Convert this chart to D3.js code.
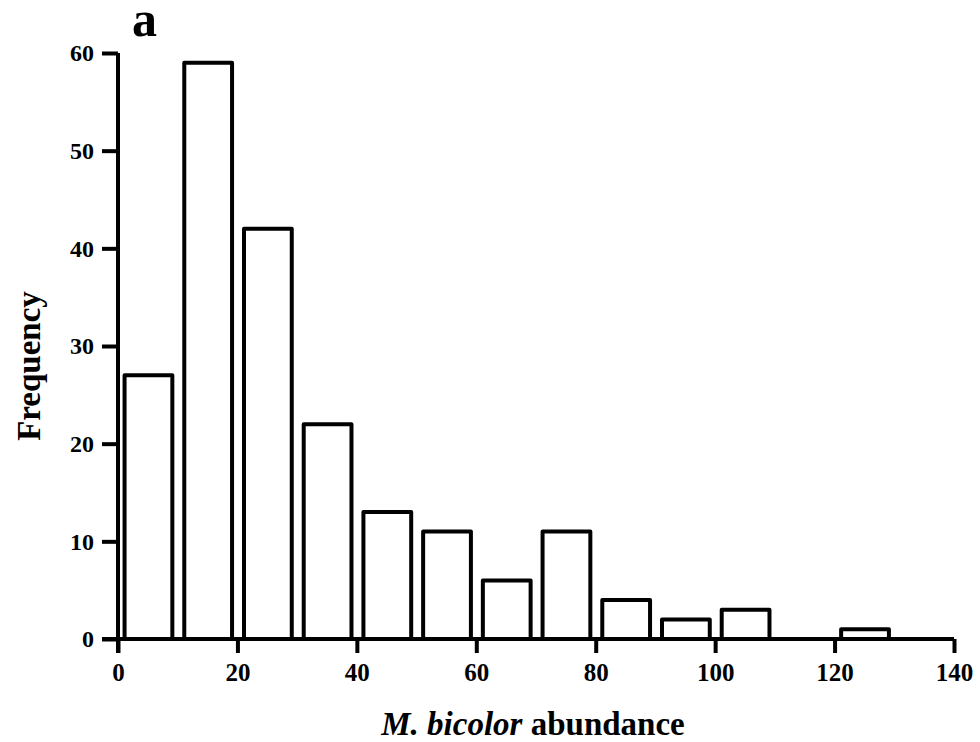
<!DOCTYPE html>
<html>
<head>
<meta charset="utf-8">
<script src="https://cdn.jsdelivr.net/npm/d3@7"></script>
<style>
  html, body { margin: 0; padding: 0; background: #fff; }
  svg { display: block; }
  text { font-family: "Liberation Serif", "Times New Roman", serif; font-weight: bold; fill: #000; }
</style>
</head>
<body>
<svg id="chart" width="980" height="742"></svg>
<script>
// Histogram bins (lower edge of each 10-wide bin) and counts
const binStarts = [0, 10, 20, 30, 40, 50, 60, 70, 80, 90, 100, 110, 120];
const counts    = [27, 59, 42, 22, 13, 11, 6, 11, 4, 2, 3, 0, 1];
const xTicks = [0, 20, 40, 60, 80, 100, 120, 140];
const yTicks = [0, 10, 20, 30, 40, 50, 60];

(function () {
  const svg = d3.select("#chart");
  const plotLeft = 118, plotRight = 954, plotTop = 53, plotBottom = 639;

  const x = d3.scaleLinear().domain([0, 140]).range([plotLeft, plotRight]);
  const y = d3.scaleLinear().domain([0, 60]).range([plotBottom, plotTop]);

  const sw = 4;

  // Bars: each occupies its bin with a small gap on either side
  svg.append("g")
    .selectAll("rect")
    .data(binStarts.map((b, i) => ({ b, c: counts[i] })).filter(d => d.c > 0))
    .join("rect")
    .attr("x", d => x(d.b + 1.1))
    .attr("width", d => x(d.b + 9.1) - x(d.b + 1.1))
    .attr("y", d => y(d.c))
    .attr("height", d => y(0) - y(d.c))
    .attr("fill", "#fff")
    .attr("stroke", "#000")
    .attr("stroke-width", sw)
    .attr("stroke-linejoin", "round");

  // X axis
  const xAxis = svg.append("g")
    .attr("transform", `translate(0,${plotBottom})`)
    .call(d3.axisBottom(x).tickValues(xTicks).tickSize(14).tickPadding(10).tickSizeOuter(0));
  xAxis.select(".domain").attr("stroke-width", sw).attr("d", `M${plotLeft - 16},0H${plotRight}`);
  xAxis.selectAll(".tick line").attr("stroke-width", sw);
  xAxis.selectAll(".tick text").attr("font-size", 25).attr("dy", "0.7em");

  // Y axis
  const yAxis = svg.append("g")
    .attr("transform", `translate(${plotLeft},0)`)
    .call(d3.axisLeft(y).tickValues(yTicks).tickSize(16).tickPadding(8).tickSizeOuter(0));
  yAxis.select(".domain").attr("stroke-width", sw).attr("d", `M0,${plotBottom + 14}V${plotTop}`);
  yAxis.selectAll(".tick line").attr("stroke-width", sw);
  yAxis.selectAll(".tick text").attr("font-size", 24);

  // Axis titles
  const xt = svg.append("text")
    .attr("x", 533)
    .attr("y", 735)
    .attr("text-anchor", "middle")
    .attr("font-size", 33);
  xt.append("tspan").attr("font-style", "italic").text("M. bicolor");
  xt.append("tspan").text(" abundance");

  svg.append("text")
    .attr("transform", "translate(40,366) rotate(-90)")
    .attr("text-anchor", "middle")
    .attr("font-size", 33)
    .text("Frequency");

  // Panel letter
  svg.append("text")
    .attr("x", 132)
    .attr("y", 36)
    .attr("font-size", 50)
    .text("a");
})();
</script>
</body>
</html>
